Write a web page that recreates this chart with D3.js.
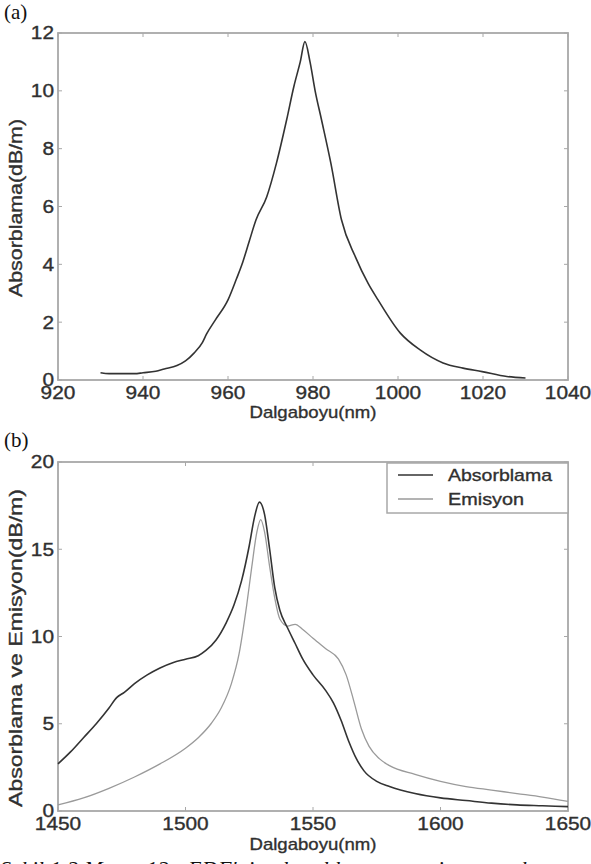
<!DOCTYPE html>
<html><head><meta charset="utf-8">
<script src="https://cdn.jsdelivr.net/npm/d3@7"></script>
<style>
html,body{margin:0;padding:0;background:#fff;overflow:hidden;}
svg{display:block;}
</style></head>
<body>
<svg id="chart" width="591" height="864"></svg>
<script>
// ---------- DATA ----------
// Panel (a): absorption around 980 nm
const aWavelength = [930,932,935,938,940,943,945,948,950,952,954,955,957,960,962,963.3,965,966.6,969.1,971.4,973.8,975.5,977,978.1,979.3,980.5,982,984.2,986.7,990,993,995.3,1000.5,1005.2,1010.6,1015.3,1019.8,1025.6,1030];
const aAbsorption = [0.25,0.22,0.22,0.22,0.25,0.3,0.38,0.5,0.66,0.93,1.3,1.6,2.07,2.77,3.5,4.0,4.8,5.54,6.33,7.5,9.0,10.15,11.0,11.7,11.0,10.0,9.0,7.5,5.54,4.25,3.33,2.77,1.63,1.04,0.59,0.41,0.29,0.12,0.07];
const aXTicks = [920,940,960,980,1000,1020,1040];
const aYTicks = [0,2,4,6,8,10,12];

// Panel (b): absorption and emission around 1530 nm
const bAbsWavelength = [1450,1455,1460,1465,1470,1473,1476,1480,1485,1490,1495,1500,1505,1508,1512,1516,1519,1522,1525,1527,1529,1531,1533,1535,1537,1540,1543,1546,1550,1555,1558,1561,1564,1567,1570,1575,1580,1590,1600,1610,1620,1630,1640,1650];
const bAbsorption = [2.7,3.4,4.2,5.0,5.9,6.5,6.8,7.3,7.8,8.2,8.5,8.7,8.9,9.2,9.8,10.8,11.8,13.2,15.2,16.8,17.7,17.0,15.0,12.8,11.5,10.5,9.6,8.7,7.8,6.9,6.2,5.2,4.0,3.0,2.3,1.7,1.4,1.0,0.75,0.6,0.45,0.35,0.3,0.25];
const bEmiWavelength = [1450,1460,1470,1480,1490,1500,1505,1510,1514,1518,1521,1524,1526,1528,1529.5,1531,1533,1535,1537,1540,1543,1546,1550,1555,1560,1563,1566,1569,1572,1576,1580,1590,1600,1610,1620,1630,1640,1650];
const bEmission = [0.35,0.75,1.3,1.95,2.7,3.6,4.2,5.0,5.9,7.3,9.0,11.8,14.0,16.0,16.7,16.0,14.0,12.2,11.0,10.6,10.7,10.4,9.9,9.3,8.7,7.8,6.3,4.7,3.7,3.0,2.6,2.1,1.7,1.4,1.2,1.0,0.8,0.55];
const bXTicks = [1450,1500,1550,1600,1650];
const bYTicks = [0,5,10,15,20];
const seriesNames = ["Absorblama","Emisyon"];

// ---------- DRAW ----------
const svg = d3.select("#chart");
const axisColor = "#a8a8a8";
const textColor = "#303030";
const font = "Liberation Sans, Arial, Helvetica, sans-serif";

function label(g, txt, size, len){
  const t = g.append("text").attr("font-family",font).attr("font-size",size)
    .attr("fill",textColor).attr("stroke",textColor).attr("stroke-width",0.35).text(txt);
  if(len) t.attr("textLength",len).attr("lengthAdjust","spacingAndGlyphs");
  return t;
}

function panel(cfg){
  const x = d3.scaleLinear().domain(cfg.xDomain).range([cfg.left, cfg.right]);
  const y = d3.scaleLinear().domain(cfg.yDomain).range([cfg.bottom, cfg.top]);
  const g = svg.append("g");
  g.append("rect").attr("x",cfg.left).attr("y",cfg.top)
    .attr("width",cfg.right-cfg.left).attr("height",cfg.bottom-cfg.top)
    .attr("fill","none").attr("stroke",axisColor).attr("stroke-width",1.8);
  const tl = 4;
  cfg.xTicks.forEach(t=>{
    g.append("line").attr("x1",x(t)).attr("x2",x(t)).attr("y1",cfg.bottom).attr("y2",cfg.bottom-tl).attr("stroke",axisColor).attr("stroke-width",1);
    g.append("line").attr("x1",x(t)).attr("x2",x(t)).attr("y1",cfg.top).attr("y2",cfg.top+tl).attr("stroke",axisColor).attr("stroke-width",1);
    label(g, String(t), 18, String(t).length*11.6).attr("x",x(t)).attr("y",cfg.bottom+cfg.xLabelDy).attr("text-anchor","middle");
  });
  cfg.yTicks.forEach(t=>{
    g.append("line").attr("x1",cfg.left).attr("x2",cfg.left+tl).attr("y1",y(t)).attr("y2",y(t)).attr("stroke",axisColor).attr("stroke-width",1);
    g.append("line").attr("x1",cfg.right).attr("x2",cfg.right-tl).attr("y1",y(t)).attr("y2",y(t)).attr("stroke",axisColor).attr("stroke-width",1);
    label(g, String(t), 18, String(t).length*11.6).attr("x",cfg.left-4).attr("y",y(t)).attr("dy","0.36em").attr("text-anchor","end");
  });
  label(g, cfg.xTitle, 17, cfg.xTitleLen).attr("x",(cfg.left+cfg.right)/2).attr("y",cfg.xTitleY).attr("text-anchor","middle");
  label(g, cfg.yTitle, 18, cfg.yTitleLen).attr("transform",`translate(${cfg.yTitleX},${cfg.yTitleCY}) rotate(-90)`).attr("text-anchor","middle");
  g.append("text").attr("x",4).attr("y",cfg.tagY).attr("font-family","Liberation Serif, Times New Roman, serif")
    .attr("font-size",21).attr("fill","#111").text(cfg.tag);
  return {x,y,g};
}

// Panel (a)
const pa = panel({xDomain:[920,1040], yDomain:[0,12], left:58, right:568, top:33, bottom:380,
  xTicks:aXTicks, yTicks:aYTicks, xLabelDy:19, xTitle:"Dalgaboyu(nm)", xTitleY:418, xTitleLen:127,
  yTitle:"Absorblama(dB/m)", yTitleX:22, yTitleCY:208, yTitleLen:178, tag:"(a)", tagY:19});
const lineA = d3.line().x((d,i)=>pa.x(aWavelength[i])).y(d=>pa.y(d)).curve(d3.curveMonotoneX);
pa.g.append("path").attr("d",lineA(aAbsorption)).attr("fill","none").attr("stroke","#333").attr("stroke-width",1.6);

// Panel (b)
const pb = panel({xDomain:[1450,1650], yDomain:[0,20], left:58, right:568, top:462, bottom:811,
  xTicks:bXTicks, yTicks:bYTicks, xLabelDy:19, xTitle:"Dalgaboyu(nm)", xTitleY:850, xTitleLen:127,
  yTitle:"Absorblama ve Emisyon(dB/m)", yTitleX:22, yTitleCY:648, yTitleLen:318, tag:"(b)", tagY:447});
const lineAbs = d3.line().x((d,i)=>pb.x(bAbsWavelength[i])).y(d=>pb.y(d)).curve(d3.curveMonotoneX);
const lineEmi = d3.line().x((d,i)=>pb.x(bEmiWavelength[i])).y(d=>pb.y(d)).curve(d3.curveMonotoneX);
pb.g.append("path").attr("d",lineEmi(bEmission)).attr("fill","none").attr("stroke","#9a9a9a").attr("stroke-width",1.3);
pb.g.append("path").attr("d",lineAbs(bAbsorption)).attr("fill","none").attr("stroke","#333").attr("stroke-width",1.6);

// Legend
const lg = pb.g.append("g");
lg.append("rect").attr("x",387).attr("y",463).attr("width",181).attr("height",50)
  .attr("fill","#fff").attr("stroke",axisColor).attr("stroke-width",1.5);
const legendColors = ["#333","#9a9a9a"];
const legendLens = [104,76];
seriesNames.forEach((n,i)=>{
  const yy = 475 + i*24;
  lg.append("line").attr("x1",398).attr("x2",433).attr("y1",yy).attr("y2",yy)
    .attr("stroke",legendColors[i]).attr("stroke-width",i===0?1.6:1.3);
  label(lg, n, 17, legendLens[i]).attr("x",448).attr("y",yy).attr("dy","0.36em");
});

// Caption (clipped at bottom edge, as in the source page)
svg.append("text").attr("x",0).attr("y",876).attr("font-family","Liberation Serif, Times New Roman, serif")
  .attr("font-style","italic").attr("font-size",22).attr("fill","#111")
  .attr("textLength",585).attr("lengthAdjust","spacing")
  .text("Şekil 1.2 Metne 12 - EDF'nin absorblama ve emisyon spektrumu");
</script>
</body></html>
